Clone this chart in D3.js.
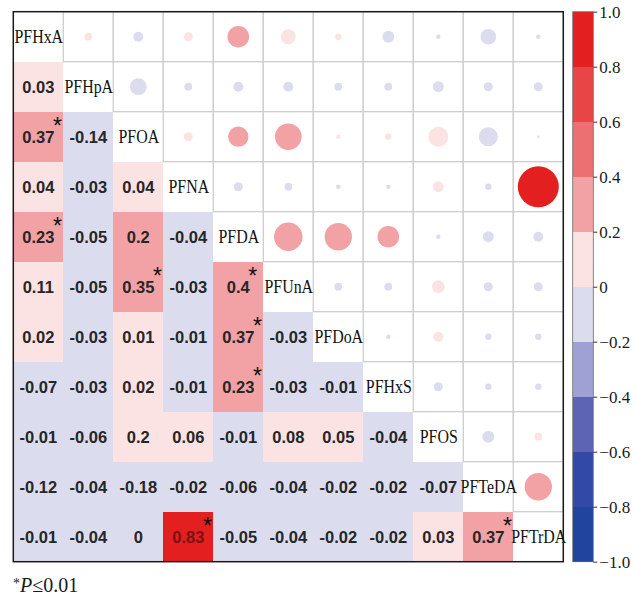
<!DOCTYPE html>
<html>
<head>
<meta charset="utf-8">
<script src="https://cdn.jsdelivr.net/npm/d3@7/dist/d3.min.js"></script>
<style>
  html, body { margin: 0; padding: 0; background: #fff; }
  svg { display: block; }
</style>
</head>
<body>
<svg id="chart" width="633" height="598"></svg>
<script>
// Compounds, in matrix order
const names = ["PFHxA", "PFHpA", "PFOA", "PFNA", "PFDA", "PFUnA", "PFDoA", "PFHxS", "PFOS", "PFTeDA", "PFTrDA"];

// Lower triangle: coefficient printed in each cell (row i, columns 0..i-1)
const lowerRows = [
  [],
  [0.03],
  [0.37, -0.14],
  [0.04, -0.03, 0.04],
  [0.23, -0.05, 0.204, -0.04],
  [0.11, -0.05, 0.35, -0.03, 0.4],
  [0.02, -0.03, 0.01, -0.01, 0.37, -0.03],
  [-0.07, -0.03, 0.02, -0.01, 0.23, -0.03, -0.01],
  [-0.01, -0.06, 0.196, 0.06, -0.01, 0.08, 0.05, -0.04],
  [-0.12, -0.04, -0.18, -0.02, -0.06, -0.04, -0.02, -0.02, -0.07],
  [-0.01, -0.04, 0, 0.83, -0.05, -0.04, -0.02, -0.02, 0.03, 0.37]
];

// Upper triangle: coefficient drawn as a circle (row i, columns i+1..10)
const circleRows = [
  [0.03, -0.05, 0.04, 0.23, 0.11, 0.02, -0.07, -0.01, -0.12, -0.01],
  [-0.14, -0.03, -0.05, -0.05, -0.03, -0.03, -0.06, -0.04, -0.04],
  [0.04, 0.204, 0.35, 0.01, 0.02, 0.196, -0.18, 0],
  [-0.04, -0.03, -0.01, -0.01, 0.06, -0.02, 0.83],
  [0.4, 0.37, 0.23, -0.01, -0.06, -0.05],
  [-0.03, -0.03, 0.08, -0.04, -0.04],
  [-0.01, 0.05, -0.02, -0.02],
  [-0.04, -0.02, -0.02],
  [-0.07, 0.03],
  [0.37],
  []
];

// Significant pairs (P <= 0.01) as [row, column] in the lower triangle
const significant = [[2, 0], [4, 0], [5, 2], [5, 4], [6, 4], [7, 4], [10, 3], [10, 9]];

// Colour key: ten bins of width 0.2 from -1 to 1
const binEdges = [-1, -0.8, -0.6, -0.4, -0.2, 0, 0.2, 0.4, 0.6, 0.8, 1];
const palette = ["#21449e", "#3249a8", "#5c64b3", "#9fa1d4", "#dcdcef",
                 "#fce3e3", "#f2a2a4", "#ec7071", "#e74546", "#e41f20"];
const keyTicks = [1, 0.8, 0.6, 0.4, 0.2, 0, -0.2, -0.4, -0.6, -0.8, -1];

const svg = d3.select("#chart");

const gridLeft = 13.3, gridTop = 11.7, gridSize = 550;
const x = d3.scaleBand().domain(d3.range(names.length)).range([gridLeft, gridLeft + gridSize]);
const y = d3.scaleBand().domain(d3.range(names.length)).range([gridTop, gridTop + gridSize]);
const cw = x.bandwidth();

// value -> bin index, bins closed on the upper side: (lo, hi]
const thresholds = binEdges.slice(1, -1);
const binOf = v => d3.bisectLeft(thresholds, v);
const colorOf = v => palette[binOf(v)];
const radius = d3.scaleSqrt().domain([0, 1]).range([0, cw / 2 * 0.9]);
const fmt = v => String(Math.round(v * 100) / 100);

// flatten cells
const lowerCells = [];
lowerRows.forEach((row, i) => row.forEach((v, j) => lowerCells.push({ i, j, v })));
const upperCells = [];
circleRows.forEach((row, i) => row.forEach((v, k) => upperCells.push({ i, j: i + 1 + k, v })));

// lower triangle colour blocks
svg.append("g").selectAll("rect").data(lowerCells).join("rect")
  .attr("x", d => x(d.j)).attr("y", d => y(d.i))
  .attr("width", cw).attr("height", cw)
  .attr("fill", d => colorOf(d.v))
  .attr("shape-rendering", "crispEdges");

// upper triangle grid cells
svg.append("g").selectAll("rect").data(upperCells).join("rect")
  .attr("x", d => x(d.j)).attr("y", d => y(d.i))
  .attr("width", cw).attr("height", cw)
  .attr("fill", "#fff")
  .attr("stroke", "#cdcdcd").attr("stroke-width", 1.3);

// circles
svg.append("g").selectAll("circle").data(upperCells).join("circle")
  .attr("cx", d => x(d.j) + cw / 2).attr("cy", d => y(d.i) + cw / 2)
  .attr("r", d => Math.max(1.2, radius(Math.abs(d.v))))
  .attr("fill", d => colorOf(d.v));

// numbers
const numG = svg.append("g");
const nums = numG.selectAll("text").data(lowerCells).join("text")
  .attr("x", d => x(d.j) + cw / 2).attr("y", d => y(d.i) + cw / 2 + 6)
  .attr("text-anchor", "middle")
  .attr("font-family", "'Liberation Sans', Arial, sans-serif")
  .attr("font-weight", "bold").attr("font-size", 16.5)
  .attr("fill", d => binOf(d.v) === 9 ? d3.interpolateRgb(colorOf(d.v), "#000")(0.45) : "#262626")
  .text(d => fmt(d.v));

// significance marks to the upper right of the printed coefficient
const sigSet = new Set(significant.map(([i, j]) => i + "-" + j));
nums.each(function (d) {
  if (!sigSet.has(d.i + "-" + d.j)) return;
  const w = this.getComputedTextLength();
  numG.append("text")
    .attr("x", x(d.j) + cw / 2 + w / 2 + 3)
    .attr("y", y(d.i) + cw / 2 - 2.5)
    .attr("text-anchor", "middle")
    .attr("font-family", "'Liberation Sans', Arial, sans-serif")
    .attr("font-size", 23).attr("fill", "#111")
    .text("*");
});

// diagonal labels
svg.append("g").selectAll("text").data(names).join("text")
  .attr("x", (d, i) => x(i) + cw / 2 + 0.5).attr("y", (d, i) => y(i) + cw / 2 + 6.6)
  .attr("text-anchor", "middle")
  .attr("font-family", "'Liberation Serif', 'Times New Roman', serif")
  .attr("font-size", 18.5).attr("fill", "#111")
  .text(d => d)
  .each(function () {
    const len = this.getComputedTextLength();
    d3.select(this).attr("textLength", len * 0.86).attr("lengthAdjust", "spacingAndGlyphs");
  });

// frame
svg.append("rect")
  .attr("x", gridLeft).attr("y", gridTop).attr("width", gridSize).attr("height", gridSize)
  .attr("fill", "none").attr("stroke", "#1a1a1a").attr("stroke-width", 1.5);

// colour key
const keyX = 572.7, keyW = 20.6;
const yk = d3.scaleLinear().domain([-1, 1]).range([gridTop + gridSize, gridTop]);
const bins = d3.range(palette.length).map(k => ({ lo: binEdges[k], hi: binEdges[k + 1], c: palette[k] }));
const key = svg.append("g");
key.selectAll("rect").data(bins).join("rect")
  .attr("x", keyX).attr("y", d => yk(d.hi))
  .attr("width", keyW).attr("height", d => yk(d.lo) - yk(d.hi))
  .attr("fill", d => d.c).attr("shape-rendering", "crispEdges");
key.append("rect")
  .attr("x", keyX).attr("y", gridTop).attr("width", keyW).attr("height", gridSize)
  .attr("fill", "none").attr("stroke", "#666").attr("stroke-width", 0.8);

const axis = d3.axisRight(yk).tickValues(keyTicks).tickSize(4).tickPadding(2)
  .tickFormat(v => v === 0 ? "0" : d3.format(".1f")(v));
const ax = svg.append("g").attr("transform", `translate(${keyX + keyW},0)`).call(axis);
ax.select(".domain").remove();
ax.selectAll("line").attr("stroke", "#333");
ax.selectAll("text")
  .attr("font-family", "'Liberation Serif', 'Times New Roman', serif")
  .attr("font-size", 17).attr("fill", "#1a1a1a");

// footnote
const note = svg.append("text").attr("x", 13).attr("y", 592)
  .attr("font-family", "'Liberation Serif', 'Times New Roman', serif")
  .attr("font-size", 20).attr("fill", "#1a1a1a");
note.append("tspan").attr("font-size", 14).attr("dy", -4).text("*");
note.append("tspan").attr("dy", 4).attr("font-style", "italic").text("P");
note.append("tspan").text("≤0.01");
</script>
</body>
</html>
